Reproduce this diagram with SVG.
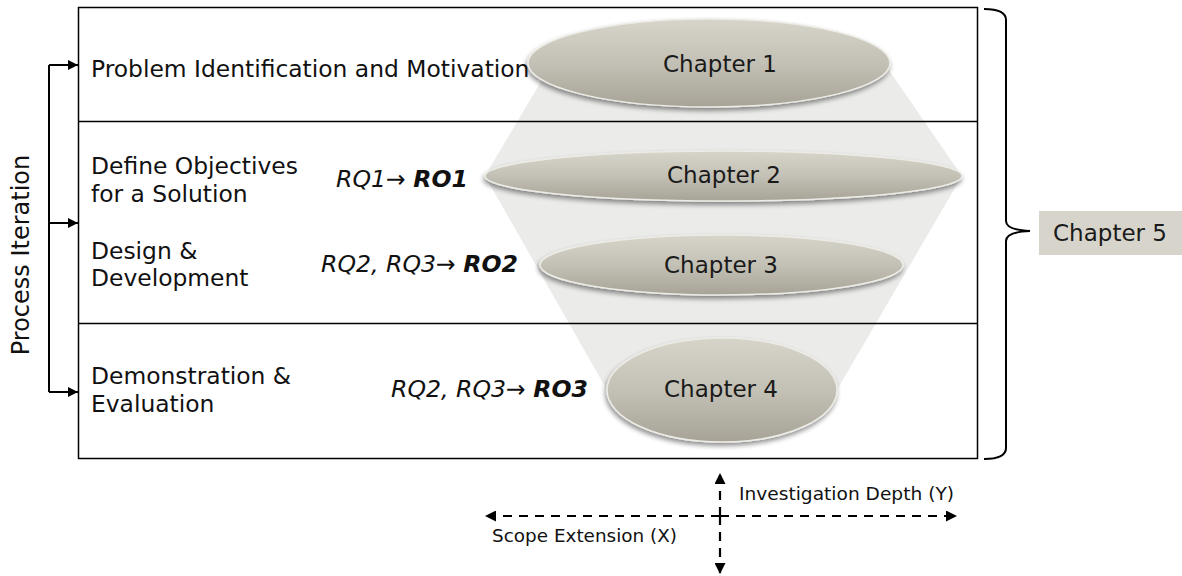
<svg xmlns="http://www.w3.org/2000/svg" width="1182" height="576" viewBox="0 0 1182 576">
<defs>
<linearGradient id="eg" x1="0" y1="0" x2="0" y2="1">
<stop offset="0" stop-color="#d7d4ca"/>
<stop offset="0.5" stop-color="#c3c0b5"/>
<stop offset="1" stop-color="#a7a397"/>
</linearGradient>
<filter id="sh" x="-10%" y="-30%" width="120%" height="170%">
<feGaussianBlur in="SourceAlpha" stdDeviation="2.5"/>
<feOffset dx="-1" dy="3" result="b"/>
<feComponentTransfer><feFuncA type="linear" slope="0.45"/></feComponentTransfer>
<feMerge><feMergeNode/><feMergeNode in="SourceGraphic"/></feMerge>
</filter>
<marker id="ah" viewBox="0 0 10 10" refX="10" refY="5" markerWidth="5" markerHeight="5" orient="auto-start-reverse" markerUnits="strokeWidth">
<path d="M0,0 L10,5 L0,10 Z" fill="#000"/>
</marker>
</defs>
<style>
text{font-family:"DejaVu Sans",Verdana,sans-serif;fill:#111;}
.t{font-size:23.4px;}
.rq{font-size:23.6px;font-style:italic;text-anchor:end;}
.rq tspan.b{font-weight:bold;}
.ch{font-size:23px;text-anchor:middle;fill:#1a1a1a;}
.ell{fill:url(#eg);stroke:#ecebe5;stroke-width:1.5;filter:url(#sh);}
.ln{stroke:#000;stroke-width:2;fill:none;}
.dash{stroke:#000;stroke-width:2.2;fill:none;stroke-dasharray:9 7;}
.ax{font-size:18px;}
</style>
<rect width="1182" height="576" fill="#fff"/>
<g id="frame">
<polygon points="552,63 884,63 962,176 837,390 607,390 485,176" fill="#ebebea"/>
<rect x="78.5" y="7.5" width="899" height="451" fill="none" stroke="#000" stroke-width="1.5"/>
<line x1="78" y1="121.5" x2="978" y2="121.5" stroke="#000" stroke-width="1.5"/>
<line x1="78" y1="323.5" x2="978" y2="323.5" stroke="#000" stroke-width="1.5"/>
</g>
<g id="stage1"><text class="t" x="91" y="77">Problem Identification and Motivation</text></g>
<g id="stage2"><text class="t" x="91" y="174">Define Objectives</text><text class="t" x="91" y="202">for a Solution</text></g>
<g id="stage3"><text class="t" x="91" y="259">Design &amp;</text><text class="t" x="91" y="286">Development</text></g>
<g id="stage4"><text class="t" x="91" y="384">Demonstration &amp;</text><text class="t" x="91" y="412">Evaluation</text></g>
<g id="rq1"><text class="rq" x="468" y="187">RQ1→ <tspan class="b">RO1</tspan></text></g>
<g id="rq2"><text class="rq" x="518" y="272">RQ2, RQ3→ <tspan class="b">RO2</tspan></text></g>
<g id="rq3"><text class="rq" x="588" y="397">RQ2, RQ3→ <tspan class="b">RO3</tspan></text></g>
<g id="chapter1"><ellipse class="ell" cx="709" cy="63" rx="181" ry="44"/><text class="ch" x="720" y="72">Chapter 1</text></g>
<g id="chapter2"><ellipse class="ell" cx="723.5" cy="176" rx="238.5" ry="25"/><text class="ch" x="724" y="183">Chapter 2</text></g>
<g id="chapter3"><ellipse class="ell" cx="721.5" cy="265" rx="181.5" ry="30"/><text class="ch" x="721" y="273">Chapter 3</text></g>
<g id="chapter4"><ellipse class="ell" cx="722" cy="390" rx="115" ry="52"/><text class="ch" x="721" y="397">Chapter 4</text></g>
<g id="chapter5">
<rect x="1039" y="211" width="143" height="44" fill="#d7d4cb"/>
<text class="ch" x="1110" y="241">Chapter 5</text>
</g>
<g id="connectors">
<path class="ln" d="M49,65 V392"/>
<path class="ln" d="M49,65 H78" marker-end="url(#ah)"/>
<path class="ln" d="M49,223 H78" marker-end="url(#ah)"/>
<path class="ln" d="M49,392 H78" marker-end="url(#ah)"/>
<path class="ln" d="M984,9 Q1006,9 1006,20 L1006,221 Q1006,230 1030,231 Q1006,232 1006,241 L1006,448 Q1006,459 984,459"/>
<path class="dash" d="M720,516 V473" marker-end="url(#ah)"/>
<path class="dash" d="M720,516 V574" marker-end="url(#ah)"/>
<path class="dash" d="M720,516 H485" marker-end="url(#ah)"/>
<path class="dash" d="M720,516 H957" marker-end="url(#ah)"/>
</g>
<g id="labels">
<text x="21" y="255" font-size="24" text-anchor="middle" transform="rotate(-90 21 255)" dy="8">Process Iteration</text>
<text class="ax" x="739" y="500" textLength="215" lengthAdjust="spacingAndGlyphs">Investigation Depth (Y)</text>
<text class="ax" x="492" y="542" textLength="185" lengthAdjust="spacingAndGlyphs">Scope Extension (X)</text>
</g>
</svg>
